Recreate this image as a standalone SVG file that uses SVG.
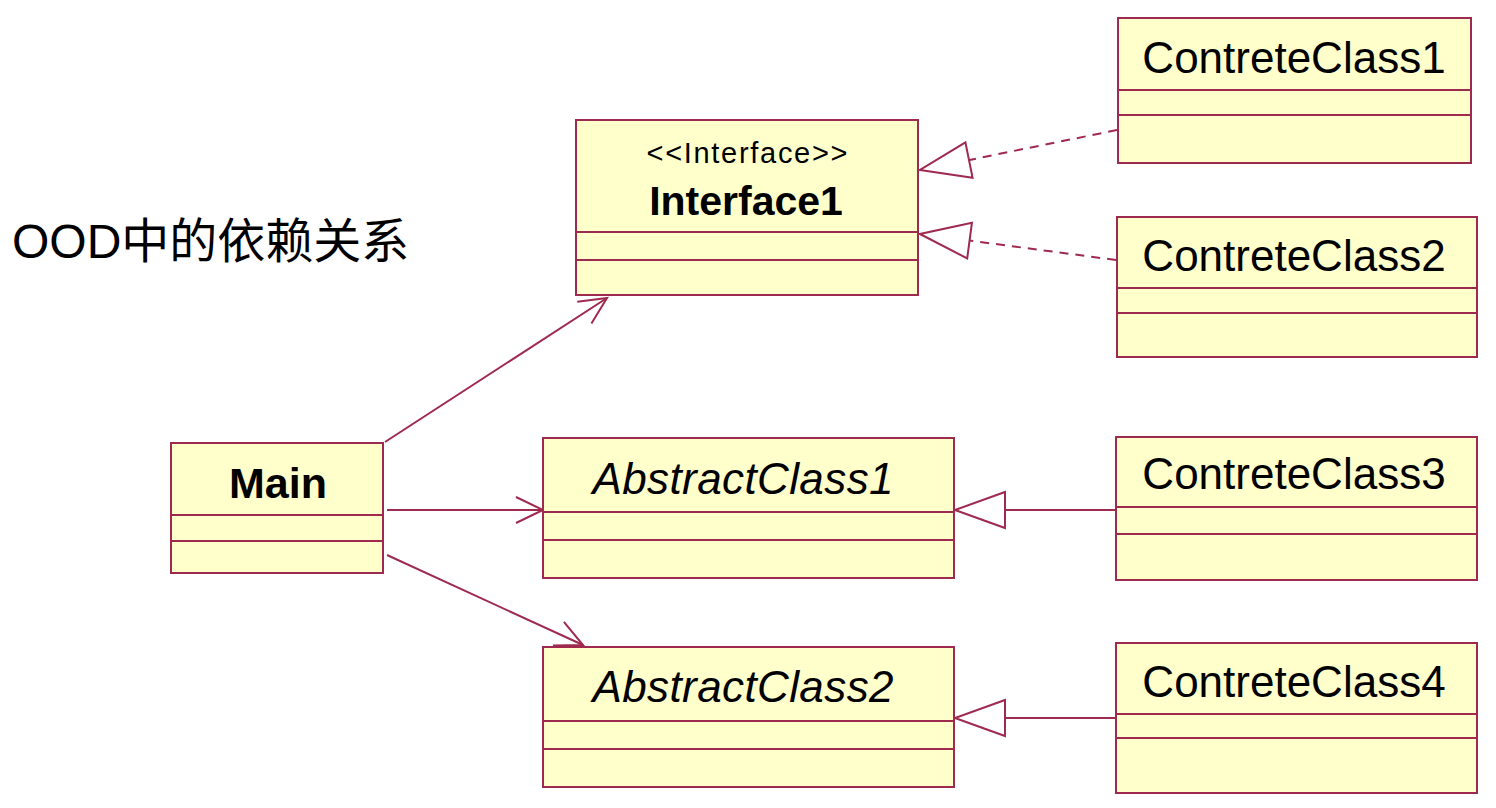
<svg xmlns="http://www.w3.org/2000/svg" width="1496" height="808" viewBox="0 0 1496 808">
<style>
.box{fill:#ffffcc;stroke:#9e2a4f;stroke-width:2}
.div{stroke:#9e2a4f;stroke-width:2}
.name{font-family:"Liberation Sans",Arial,sans-serif;font-size:44px;fill:#000;text-anchor:middle}
.bold{font-weight:bold}
.ital{font-style:italic}
.stereo{font-family:"Liberation Sans",Arial,sans-serif;font-size:29px;fill:#000;text-anchor:middle}
.dep{stroke:#9e2a4f;stroke-width:2;fill:none}
.dash{stroke-dasharray:9 7}
</style>
<defs>
<marker id="open" markerUnits="userSpaceOnUse" markerWidth="40" markerHeight="40" viewBox="-34 -20 40 40" refX="0" refY="0" orient="auto" overflow="visible">
<path d="M-27,-13 L0,0 L-27,13" fill="none" stroke="#9e2a4f" stroke-width="2"/>
</marker>
<marker id="tri" markerUnits="userSpaceOnUse" markerWidth="60" markerHeight="50" viewBox="-55 -25 60 50" refX="0" refY="0" orient="auto" overflow="visible">
<path d="M0,0 L-50,-18 L-50,18 Z" fill="#ffffff" stroke="#9e2a4f" stroke-width="2"/>
</marker>
</defs>
<rect width="1496" height="808" fill="#ffffff"/>
<text x="12" y="258" font-family="'Liberation Sans','Noto Sans CJK SC',sans-serif" font-size="48" fill="#000">OOD中的依赖关系</text>
<g id="connectors">
<line class="dep" x1="385" y1="442" x2="607" y2="298" marker-end="url(#open)"/>
<line class="dep" x1="387" y1="510" x2="543" y2="510" marker-end="url(#open)"/>
<line class="dep" x1="387" y1="555" x2="583" y2="645" marker-end="url(#open)"/>
<line class="dep dash" x1="1117" y1="130" x2="920" y2="170" marker-end="url(#tri)"/>
<line class="dep dash" x1="1116" y1="260" x2="920" y2="234" marker-end="url(#tri)"/>
<line class="dep" x1="1116" y1="510" x2="955" y2="510" marker-end="url(#tri)"/>
<line class="dep" x1="1116" y1="718" x2="955" y2="718" marker-end="url(#tri)"/>
</g>
<g id="Interface1">
<rect class="box" x="576" y="120" width="342" height="175"/>
<line class="div" x1="576" y1="232" x2="918" y2="232"/>
<line class="div" x1="576" y1="260" x2="918" y2="260"/>
<text class="stereo" x="747" y="163" textLength="201">&lt;&lt;Interface&gt;&gt;</text>
<text class="name bold" x="746" y="215" style="font-size:41px">Interface1</text>
</g>
<g id="Main">
<rect class="box" x="171" y="443" width="212" height="130"/>
<line class="div" x1="171" y1="515" x2="383" y2="515"/>
<line class="div" x1="171" y1="541" x2="383" y2="541"/>
<text class="name bold" x="278" y="498" style="font-size:43px">Main</text>
</g>
<g id="AbstractClass1">
<rect class="box" x="543" y="438" width="411" height="140"/>
<line class="div" x1="543" y1="512" x2="954" y2="512"/>
<line class="div" x1="543" y1="540" x2="954" y2="540"/>
<text class="name ital" x="743" y="494" textLength="301">AbstractClass1</text>
</g>
<g id="AbstractClass2">
<rect class="box" x="543" y="647" width="411" height="140"/>
<line class="div" x1="543" y1="721" x2="954" y2="721"/>
<line class="div" x1="543" y1="749" x2="954" y2="749"/>
<text class="name ital" x="743" y="702" textLength="301">AbstractClass2</text>
</g>
<g id="ContreteClass1">
<rect class="box" x="1118" y="18" width="353" height="145"/>
<line class="div" x1="1118" y1="90" x2="1471" y2="90"/>
<line class="div" x1="1118" y1="115" x2="1471" y2="115"/>
<text class="name" x="1294" y="73">ContreteClass1</text>
</g>
<g id="ContreteClass2">
<rect class="box" x="1117" y="217" width="360" height="140"/>
<line class="div" x1="1117" y1="288" x2="1477" y2="288"/>
<line class="div" x1="1117" y1="313" x2="1477" y2="313"/>
<text class="name" x="1294" y="271">ContreteClass2</text>
</g>
<g id="ContreteClass3">
<rect class="box" x="1116" y="437" width="361" height="143"/>
<line class="div" x1="1116" y1="507" x2="1477" y2="507"/>
<line class="div" x1="1116" y1="534" x2="1477" y2="534"/>
<text class="name" x="1294" y="489">ContreteClass3</text>
</g>
<g id="ContreteClass4">
<rect class="box" x="1116" y="643" width="361" height="150"/>
<line class="div" x1="1116" y1="714" x2="1477" y2="714"/>
<line class="div" x1="1116" y1="738" x2="1477" y2="738"/>
<text class="name" x="1294" y="697">ContreteClass4</text>
</g>
</svg>
